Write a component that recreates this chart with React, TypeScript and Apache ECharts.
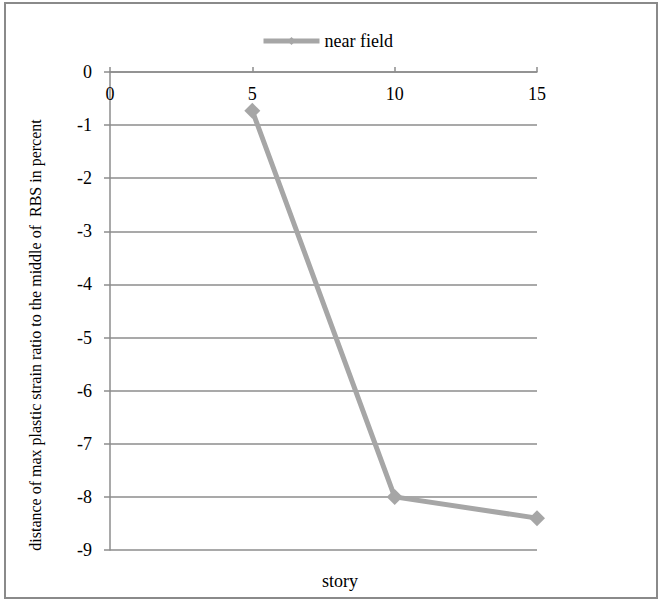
import React, { useEffect, useRef } from "react";
import * as echarts from "echarts";

const stories = [5, 10, 15];
const nearField = [-0.73, -8.0, -8.4];
const xTicks = [0, 5, 10, 15];
const yTicks = [0, -1, -2, -3, -4, -5, -6, -7, -8, -9];

const FONT = "Liberation Serif";
const GRAY = "#a6a6a6";
const AXIS = "#8c8c8c";

export default function App() {
  const ref = useRef<HTMLDivElement>(null);

  useEffect(() => {
    if (!ref.current) return;
    const chart = echarts.init(ref.current, null, { renderer: "svg" });
    chart.setOption({
      animation: false,
      backgroundColor: "#fff",
      textStyle: { fontFamily: FONT },
      legend: {
        top: 27,
        left: 256,
        itemWidth: 56,
        itemHeight: 10,
        itemGap: 6,
        lineStyle: { width: 5, color: GRAY },
        textStyle: { fontFamily: FONT, fontSize: 18, color: "#000" },
        data: ["near field"],
      },
      grid: { left: 110, top: 72, right: 130, bottom: 53 },
      xAxis: {
        type: "value",
        position: "top",
        min: xTicks[0],
        max: xTicks[xTicks.length - 1],
        interval: 5,
        axisLine: { show: true, onZero: false, lineStyle: { color: AXIS, width: 1.5 } },
        axisTick: { show: true, inside: false, length: 5, lineStyle: { color: AXIS, width: 1.5 } },
        axisLabel: { inside: true, margin: 13, fontFamily: FONT, fontSize: 18, color: "#000" },
        splitLine: { show: false },
      },
      yAxis: {
        type: "value",
        min: yTicks[yTicks.length - 1],
        max: yTicks[0],
        interval: 1,
        axisLine: { show: true, lineStyle: { color: AXIS, width: 1.5 } },
        axisTick: { show: true, inside: false, length: 6, lineStyle: { color: AXIS, width: 1.5 } },
        axisLabel: { margin: 18, fontFamily: FONT, fontSize: 18, color: "#000" },
        splitLine: { show: true, lineStyle: { color: AXIS, width: 1.5 } },
      },
      graphic: [
        {
          type: "rect",
          shape: { x: 5, y: 3, width: 652, height: 595 },
          style: { fill: "none", stroke: "#8a8a8a", lineWidth: 2 },
          silent: true,
        },
        {
          type: "text",
          x: 35,
          y: 335,
          rotation: Math.PI / 2,
          style: {
            text: "distance of max plastic strain ratio to the middle of  RBS in percent",
            fontFamily: FONT,
            fontSize: 16,
            fill: "#000",
            align: "center",
            verticalAlign: "middle",
          },
        },
        {
          type: "text",
          x: 340,
          y: 581,
          style: {
            text: "story",
            fontFamily: FONT,
            fontSize: 18,
            fill: "#000",
            align: "center",
            verticalAlign: "middle",
          },
        },
      ],
      series: [
        {
          name: "near field",
          type: "line",
          data: stories.map((s, i) => [s, nearField[i]]),
          symbol: "diamond",
          symbolSize: 16,
          color: GRAY,
          lineStyle: { color: GRAY, width: 5 },
          itemStyle: { color: GRAY },
        },
      ],
    });
    return () => chart.dispose();
  }, []);

  return (
    <div
      ref={ref}
      style={{ position: "fixed", left: 0, top: 0, width: 667, height: 603 }}
    />
  );
}
